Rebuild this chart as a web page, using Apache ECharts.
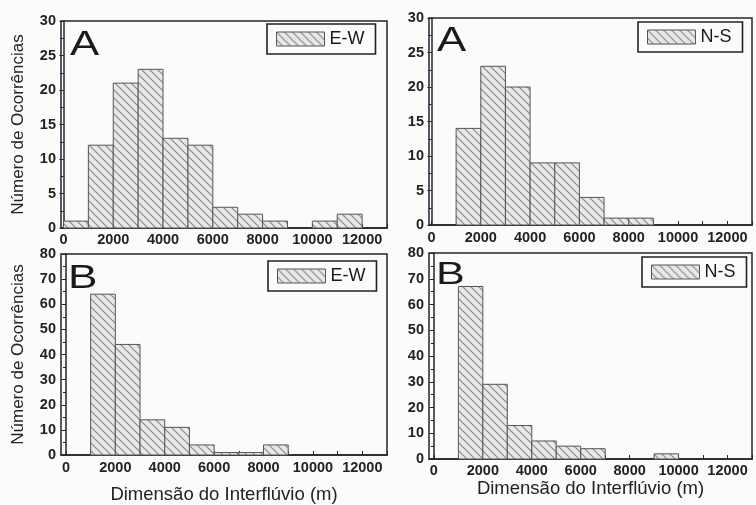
<!DOCTYPE html>
<html>
<head>
<meta charset="utf-8">
<script src="https://cdn.jsdelivr.net/npm/echarts@6/dist/echarts.min.js"></script>
<style>
html,body{margin:0;padding:0;background:#fbfbfa;}
#c{width:756px;height:505px;}
</style>
</head>
<body>
<div id="c"></div>
<script>
// ---- data ----
var binStarts = [0,1000,2000,3000,4000,5000,6000,7000,8000,9000,10000,11000];
var binWidth = 1000;
var ewA = [1,12,21,23,13,12,3,2,1,0,1,2];
var nsA = [0,14,23,20,9,9,4,1,1,0,0,0];
var ewB = [0,64,44,14,11,4,1,1,4,0,0,0];
var nsB = [0,67,29,13,7,5,4,0,0,2,0,0];
var xTickLabels = [0,2000,4000,6000,8000,10000,12000];
var xTicks = [0,1000,2000,3000,4000,5000,6000,7000,8000,9000,10000,11000,12000,13000];
var panelLetters = ['A','A','B','B'];
var seriesNames = ['E-W','N-S','E-W','N-S'];
var yTitle = 'Número de Ocorrências';
var xTitle = 'Dimensão do Interflúvio (m)';

// ---- hatch pattern ----
function makePattern(){
  var s = 8, cv = document.createElement('canvas');
  cv.width = s; cv.height = s;
  var g = cv.getContext('2d');
  g.fillStyle = '#e8e8e8'; g.fillRect(0,0,s,s);
  g.strokeStyle = '#8a8a8a'; g.lineWidth = 1.2;
  g.beginPath();
  g.moveTo(-1,-1); g.lineTo(s+1,s+1);
  g.moveTo(-1,s-1); g.lineTo(1,s+1);
  g.moveTo(s-1,-1); g.lineTo(s+1,1);
  g.stroke();
  return {image: cv, repeat: 'repeat'};
}
var pattern = makePattern();

function toData(counts){
  return counts.map(function(v,i){ return [binStarts[i], binStarts[i]+binWidth, v]; });
}
var allCounts = [ewA, nsA, ewB, nsB];

var grids = [
  {left:61, right:369, top:21, bottom:277},
  {left:429, right:4, top:18, bottom:280},
  {left:61, right:369, top:254, bottom:42},
  {left:429, right:4, top:253, bottom:46}
];
var xMins = [-100,-100,-200,-200];
var yMaxs = [30,30,80,80];
var yIntervals = [5,5,10,10];
var xLabelMargins = [4,5,5,4];
var xNameGaps = [0,0,30,20];

var axisColor = '#25252f';
var font = 'Liberation Sans, Arial, sans-serif';
var textColor = '#222';

var letterPos = [
  {x:70, y:28, size:35, sx:1.25},
  {x:437, y:24, size:35, sx:1.25},
  {x:68, y:262, size:34, sx:1.3},
  {x:436, y:259, size:32, sx:1.35}
];

var option = {
  backgroundColor: '#fbfbfa',
  animation: false,
  textStyle: {fontFamily: font},
  grid: grids.map(function(g){
    return Object.assign({show:true, borderColor:axisColor, borderWidth:1.5, backgroundColor:'transparent', containLabel:false}, g);
  }),
  xAxis: grids.map(function(g,i){
    return {
      type:'value', gridIndex:i, min:xMins[i], max:13000,
      axisLine:{show:true, lineStyle:{color:axisColor, width:1.5}},
      axisTick:{show:true, inside:true, length:4, customValues:xTicks, lineStyle:{color:axisColor}},
      axisLabel:{show:true, customValues:xTickLabels, color:textColor, fontSize:14.5, fontWeight:'bold', margin:xLabelMargins[i], fontFamily:font,
        formatter:function(v){ return String(v); }},
      splitLine:{show:false},
      name: i>=2 ? xTitle : '',
      nameLocation:'middle', nameGap:xNameGaps[i],
      nameTextStyle:{fontSize:18.5, color:textColor, fontFamily:font}
    };
  }),
  yAxis: grids.map(function(g,i){
    return {
      type:'value', gridIndex:i, min:0, max:yMaxs[i], interval:yIntervals[i],
      axisLine:{show:true, lineStyle:{color:axisColor, width:1.5}},
      axisTick:{show:true, inside:false, length:4, lineStyle:{color:axisColor}},
      minorTick:{show:true, splitNumber:2, length:3, lineStyle:{color:axisColor}},
      axisLabel:{color:textColor, fontSize:14.5, fontWeight:'bold', margin:5, fontFamily:font},
      splitLine:{show:false},
      name: (i===0||i===2) ? yTitle : '',
      nameLocation:'middle', nameRotate:90, nameGap:34,
      nameTextStyle:{fontSize:17, color:textColor, fontFamily:font}
    };
  }),
  graphic: letterPos.map(function(p,i){
    return {type:'text', x:p.x, y:p.y, scaleX:p.sx, silent:true,
      style:{text:panelLetters[i], fontSize:p.size, fontFamily:font, fill:'#1a1a1a', align:'left', verticalAlign:'top'}};
  }),
  legend: [
    {left:267, top:24},
    {left:638, top:22},
    {left:268, top:261},
    {left:642, top:257}
  ].map(function(l,i){
    return Object.assign({
      data:[{name:seriesNames[i], icon:'rect'}],
      orient:'horizontal',
      itemWidth:48, itemHeight:14,
      borderColor:'#222', borderWidth:1.6,
      padding:[6,11,6,9],
      selectedMode:false,
      textStyle:{fontSize:18, color:'#1a1a1a', fontFamily:font},
      itemStyle:{color:pattern, borderColor:'#555', borderWidth:1}
    }, l);
  }),
  series: allCounts.map(function(counts,i){
    return {
      type:'custom', name:seriesNames[i],
      xAxisIndex:i, yAxisIndex:i,
      itemStyle:{color:pattern, borderColor:'#555', borderWidth:1},
      encode:{x:[0,1], y:2},
      data: toData(counts),
      renderItem:function(params, api){
        var v = api.value(2);
        if (!v) return null;
        var s = api.coord([api.value(0), 0]);
        var e = api.coord([api.value(1), v]);
        return {type:'rect', shape:{x:s[0], y:e[1], width:e[0]-s[0], height:s[1]-e[1]},
          style:{fill:pattern, stroke:'#555', lineWidth:1}};
      }
    };
  })
};

var chart = echarts.init(document.getElementById('c'), null, {renderer:'canvas'});
chart.setOption(option);
</script>
</body>
</html>
